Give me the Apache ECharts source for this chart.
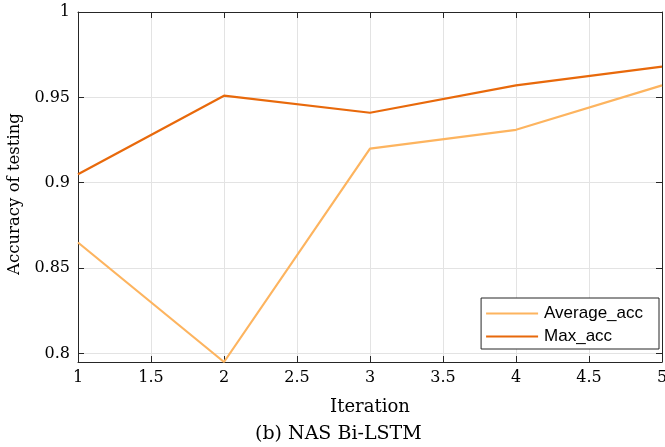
<!DOCTYPE html>
<html><head><meta charset="utf-8">
<script src="https://cdn.jsdelivr.net/npm/echarts@6/dist/echarts.min.js"></script>
<style>html,body{margin:0;padding:0;background:#fff}#c{width:665px;height:447px}</style>
</head><body><div id="c"></div>
<script>
const iterations = [1, 2, 3, 4, 5];
const averageAcc = [0.865, 0.795, 0.920, 0.931, 0.957];
const maxAcc = [0.905, 0.951, 0.941, 0.957, 0.968];
const yTicks = [0.8, 0.85, 0.9, 0.95, 1];
const yTickLabels = ['0.8', '0.85', '0.9', '0.95', '1'];

const serif = 'DejaVu Serif';
const axisCol = '#262626';
const gridCol = '#e3e3e3';
const chart = echarts.init(document.getElementById('c'), null, {renderer: 'canvas'});
const pair = (xs, ys) => xs.map((x, i) => [x, ys[i]]);
const lineIcon = 'path://M0,0L52,0L52,2.2L0,2.2Z';
chart.setOption({
  animation: false,
  backgroundColor: '#fff',
  title: {
    text: '(b) NAS Bi-LSTM', left: 255, top: 425, padding: 0,
    textStyle: {fontFamily: serif, fontSize: 19, fontWeight: 'normal', color: '#000'}
  },
  grid: {left: 78, right: 3, top: 12, bottom: 85, outerBoundsMode: 'none', containLabel: false},
  legend: {
    right: 6, top: 298, orient: 'vertical', itemGap: 6,
    itemWidth: 52, itemHeight: 18,
    backgroundColor: '#fff', borderColor: '#262626', borderWidth: 1,
    padding: [7, 16, 4, 5],
    textStyle: {fontFamily: 'Liberation Sans', fontSize: 17, color: '#000', padding: [0, 0, 0, 1]},
    data: [{name: 'Average_acc', icon: lineIcon}, {name: 'Max_acc', icon: lineIcon}]
  },
  xAxis: [{
    type: 'value', min: 1, max: 5, interval: 0.5, position: 'bottom',
    name: 'Iteration', nameLocation: 'middle', nameGap: 36,
    nameTextStyle: {fontFamily: serif, fontSize: 18, color: '#000'},
    axisLine: {show: true, lineStyle: {color: axisCol, width: 1}},
    axisTick: {show: true, inside: true, length: 6, lineStyle: {color: axisCol}},
    axisLabel: {fontFamily: serif, fontSize: 16, color: '#000', margin: 8,
      formatter: v => String(v)},
    splitLine: {show: true, lineStyle: {color: gridCol, width: 1}}
  }, {
    type: 'value', min: 1, max: 5, interval: 0.5, position: 'top',
    axisLine: {show: true, lineStyle: {color: axisCol, width: 1}},
    axisTick: {show: true, inside: true, length: 6, lineStyle: {color: axisCol}},
    axisLabel: {show: false}, splitLine: {show: false}
  }],
  yAxis: [{
    type: 'value', min: 0.795, max: 1, position: 'left',
    name: 'Accuracy of testing', nameLocation: 'middle', nameGap: 49,
    nameTextStyle: {fontFamily: serif, fontSize: 16.5, color: '#000', padding: [0, 14, 0, 0]},
    axisLine: {show: true, lineStyle: {color: axisCol, width: 1}},
    axisTick: {show: true, inside: true, length: 6, customValues: yTicks, lineStyle: {color: axisCol}},
    axisLabel: {fontFamily: serif, fontSize: 16, color: '#000', margin: 8,
      customValues: yTicks, formatter: v => yTickLabels[yTicks.findIndex(t => Math.abs(t - v) < 1e-9)] ?? String(v)},
    splitLine: {show: true, lineStyle: {color: gridCol, width: 1}}
  }, {
    type: 'value', min: 0.795, max: 1, position: 'right',
    axisLine: {show: true, lineStyle: {color: axisCol, width: 1}},
    axisTick: {show: true, inside: true, length: 6, customValues: yTicks, lineStyle: {color: axisCol}},
    axisLabel: {show: false}, splitLine: {show: false}
  }],
  series: [{
    name: 'Average_acc', type: 'line', data: pair(iterations, averageAcc),
    showSymbol: false, symbol: 'none', color: '#fdb45f',
    lineStyle: {width: 2.2, color: '#fdb45f'}, z: 3
  }, {
    name: 'Max_acc', type: 'line', data: pair(iterations, maxAcc),
    showSymbol: false, symbol: 'none', color: '#e8690b',
    lineStyle: {width: 2.2, color: '#e8690b'}, z: 4
  }]
});
</script></body></html>
